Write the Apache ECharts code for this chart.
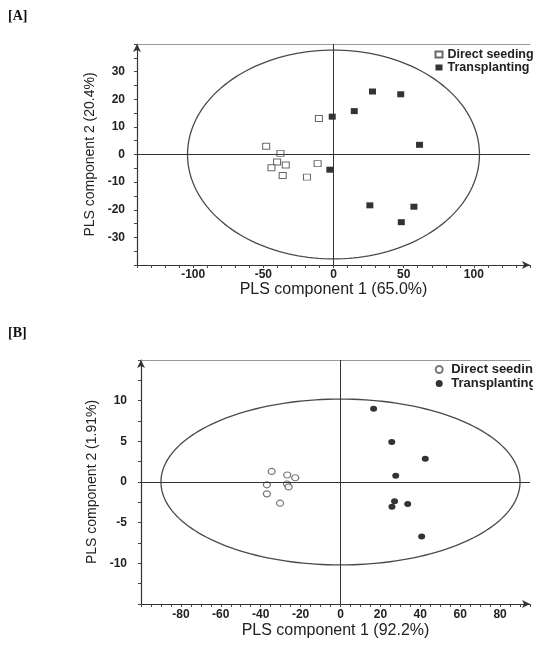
<!DOCTYPE html>
<html>
<head>
<meta charset="utf-8">
<script src="https://cdn.jsdelivr.net/npm/echarts@6/dist/echarts.min.js"></script>
<style>
html,body{margin:0;padding:0;background:#fff;}
#chart{width:533px;height:648px;}
</style>
</head>
<body>
<div id="chart"></div>
<script>
// ---- Data ----
// Panel A: PLS scores, component 1 vs component 2
const directSeedingA = [[-10.4,13.0],[-48,3.0],[-37.8,0.4],[-40.2,-2.7],[-34,-3.8],[-44.2,-4.8],[-36.2,-7.6],[-18.9,-8.2],[-11.3,-3.3]];
const transplantingA = [[-0.9,13.7],[14.8,15.7],[27.8,22.8],[47.9,21.8],[61.3,3.5],[-2.6,-5.5],[25.9,-18.4],[57.3,-18.9],[48.3,-24.5]];
// Panel B
const directSeedingB = [[-34.5,1.3],[-26.7,0.86],[-22.7,0.53],[-36.9,-0.35],[-26.8,-0.25],[-26,-0.6],[-36.9,-1.46],[-30.3,-2.6]];
const transplantingB = [[16.6,9.0],[25.7,4.92],[42.5,2.86],[27.7,0.78],[27.1,-2.37],[25.8,-3.05],[33.7,-2.7],[40.7,-6.7]];
// Hotelling ellipse semi-axes [x, y]
const ellipseA = [104, 37.8];
const ellipseB = [90, 10.2];
// Axis text
const legendNames = ['Direct seeding', 'Transplanting'];
const xTitleA = 'PLS component 1 (65.0%)';
const yTitleA = 'PLS component 2 (20.4%)';
const xTitleB = 'PLS component 1 (92.2%)';
const yTitleB = 'PLS component 2 (1.91%)';

const FONT = '"Liberation Sans", Arial, sans-serif';
const chart = echarts.init(document.getElementById('chart'), null, {renderer:'canvas'});

function ellipseSeries(axes, gi) {
  return {
    type: 'custom', xAxisIndex: gi, yAxisIndex: gi, z: 1, silent: true,
    data: [[0, 0]],
    renderItem: function (params, api) {
      const pts = [];
      const N = 180;
      for (let i = 0; i <= N; i++) {
        const t = 2 * Math.PI * i / N;
        pts.push(api.coord([axes[0] * Math.cos(t), axes[1] * Math.sin(t)]));
      }
      return {type: 'polyline', shape: {points: pts}, style: {stroke: '#4a4a4a', fill: null, lineWidth: 1.3}};
    },
    markLine: {
      silent: true, symbol: ['none', 'none'], label: {show: false},
      lineStyle: {color: '#333', width: 1, type: 'solid'},
      data: [{xAxis: 0}, {yAxis: 0}]
    }
  };
}

function xAxis(gi, min, max, interval, labelStep, labelMax, name, gap, margin) {
  return {
    gridIndex: gi, type: 'value', min: min, max: max, interval: interval,
    axisLine: {onZero: false, lineStyle: {color: '#333', width: 1.2}, symbol: ['none', 'arrow'], symbolSize: [6, 8]},
    axisTick: {length: 3, lineStyle: {color: '#444'}},
    splitLine: {show: false},
    axisLabel: {
      margin: margin, fontFamily: FONT, fontWeight: 'bold', fontSize: 12, color: '#222',
      formatter: v => (Math.abs(v % labelStep) < 1e-9 && Math.abs(v) <= labelMax) ? String(v) : ''
    },
    name: name, nameLocation: 'middle', nameGap: gap,
    nameTextStyle: {fontFamily: FONT, fontSize: 16, color: '#222'}
  };
}
// top border of each panel (frame line only)
function topFrame(gi, min, max) {
  return {
    gridIndex: gi, type: 'value', position: 'top', min: min, max: max,
    axisLine: {show: true, onZero: false, lineStyle: {color: '#999', width: 1}},
    axisTick: {show: false}, axisLabel: {show: false}, splitLine: {show: false}
  };
}
function yAxis(gi, min, max, interval, labelStep, labelMax, name, gap, margin) {
  return {
    gridIndex: gi, type: 'value', min: min, max: max, interval: interval,
    axisLine: {onZero: false, lineStyle: {color: '#333', width: 1.2}, symbol: ['none', 'arrow'], symbolSize: [6, 8]},
    axisTick: {length: 3, lineStyle: {color: '#444'}},
    splitLine: {show: false},
    axisLabel: {
      margin: margin, fontFamily: FONT, fontWeight: 'bold', fontSize: 12, color: '#222',
      formatter: v => (Math.abs(v % labelStep) < 1e-9 && Math.abs(v) <= labelMax) ? String(v) : ''
    },
    name: name, nameLocation: 'middle', nameGap: gap,
    nameTextStyle: {fontFamily: FONT, fontSize: 14, color: '#222'}
  };
}

const openStyle = {color: '#fff', borderColor: '#444', borderWidth: 1};
const fillStyle = {color: '#000'};

const option = {
  animation: false,
  backgroundColor: '#fff',
  title: [
    {text: '[A]', left: 8, top: 9, padding: 0, textStyle: {fontFamily: '"Liberation Serif", "Times New Roman", serif', fontWeight: 'bold', fontSize: 14, color: '#111'}},
    {text: '[B]', left: 8, top: 326, padding: 0, textStyle: {fontFamily: '"Liberation Serif", "Times New Roman", serif', fontWeight: 'bold', fontSize: 14, color: '#111'}}
  ],
  grid: [
    {left: 137, top: 44, width: 394, height: 221},
    {left: 141, top: 360, width: 390, height: 244}
  ],
  xAxis: [
    xAxis(0, -140, 140, 10, 50, 100, xTitleA, 17, 4),
    xAxis(1, -100, 95, 5, 20, 80, xTitleB, 19, 5),
    topFrame(0, -140, 140),
    topFrame(1, -100, 95)
  ],
  yAxis: [
    yAxis(0, -40, 40, 5, 10, 30, yTitleA, 37, 12),
    yAxis(1, -15, 15, 2.5, 5, 10, yTitleB, 42, 14)
  ],
  legend: [
    {
      left: 434.5, top: 48, orient: 'vertical', padding: 0, itemGap: 0,
      itemWidth: 7, itemHeight: 6, symbolKeepAspect: false,
      textStyle: {fontFamily: FONT, fontSize: 12.5, fontWeight: 'bold', color: '#222'},
      data: [{name: legendNames[0], icon: 'rect'}, {name: legendNames[1], icon: 'rect'}]
    },
    {
      left: 434.7, top: 363, orient: 'vertical', padding: 0, itemGap: 1,
      itemWidth: 14, itemHeight: 7,
      textStyle: {fontFamily: FONT, fontSize: 13, fontWeight: 'bold', color: '#222'},
      formatter: n => n.replace(' (B)', ''),
      data: [{name: legendNames[0] + ' (B)', icon: 'circle'}, {name: legendNames[1] + ' (B)', icon: 'circle'}]
    }
  ],
  series: [
    ellipseSeries(ellipseA, 0),
    ellipseSeries(ellipseB, 1),
    {name: legendNames[0], type: 'scatter', xAxisIndex: 0, yAxisIndex: 0, z: 3, symbol: 'rect', symbolSize: [7, 6], itemStyle: openStyle, data: directSeedingA},
    {name: legendNames[1], type: 'scatter', xAxisIndex: 0, yAxisIndex: 0, z: 3, symbol: 'rect', symbolSize: [7, 6], itemStyle: fillStyle, data: transplantingA},
    {name: legendNames[0] + ' (B)', type: 'scatter', xAxisIndex: 1, yAxisIndex: 1, z: 3, symbol: 'circle', symbolSize: [7, 6], itemStyle: {color: '#fff', borderColor: '#555', borderWidth: 1.2}, data: directSeedingB},
    {name: legendNames[1] + ' (B)', type: 'scatter', xAxisIndex: 1, yAxisIndex: 1, z: 3, symbol: 'circle', symbolSize: [7, 6], itemStyle: fillStyle, data: transplantingB}
  ]
};
chart.setOption(option);
</script>
</body>
</html>
